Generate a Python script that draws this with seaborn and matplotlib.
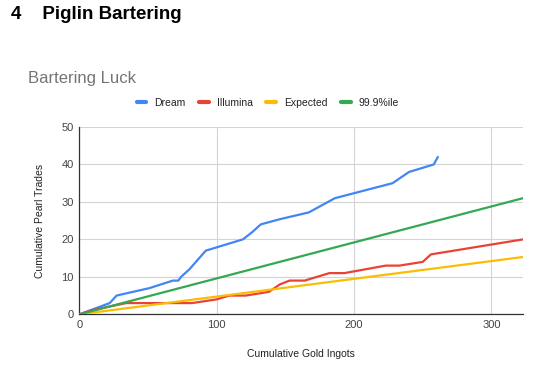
import pandas as pd
import numpy as np
import seaborn as sns
import matplotlib.pyplot as plt
from matplotlib.lines import Line2D

# Values
dream_gold = [0, 22, 27, 51, 68, 72, 74, 80, 92, 119, 126, 132, 146, 153, 167, 186, 228, 240, 258, 261]
dream_pearls = [0, 3, 5, 7, 9, 9, 10, 12, 17, 20, 22, 24, 25.4, 26, 27.2, 31, 35, 38, 40, 42]

illumina_gold = [0, 8, 34, 82, 100, 109, 121, 138, 146, 153, 164, 182, 193, 223, 233, 250, 256, 323]
illumina_pearls = [0, 1, 3, 3, 4, 5, 5, 6, 8, 9, 9, 11, 11, 13, 13, 14, 16, 20]

expected_gold = [0, 323]
expected_pearls = [0, 15.3]

pct999_gold = [0, 323]
pct999_pearls = [0, 31]

series = ['Dream', 'Illumina', 'Expected', '99.9%ile']
colors = ['#4285F4', '#EA4335', '#FBBC04', '#34A853']

frames = []
for name, gx, py in [('Dream', dream_gold, dream_pearls),
                     ('Illumina', illumina_gold, illumina_pearls),
                     ('Expected', expected_gold, expected_pearls),
                     ('99.9%ile', pct999_gold, pct999_pearls)]:
    frames.append(pd.DataFrame({'gold': gx, 'pearls': py, 'series': name}))
df = pd.concat(frames, ignore_index=True)

sns.set_style('white')
plt.rcParams['font.family'] = ['Liberation Sans', 'DejaVu Sans']

fig = plt.figure(figsize=(5.49, 3.74), dpi=100)
ax = fig.add_axes([0.1448, 0.1596, 0.8078, 0.5008])

sns.lineplot(data=df, x='gold', y='pearls', hue='series', hue_order=series,
             palette=colors, linewidth=1.6, sort=False, legend=False,
             estimator=None, ax=ax, zorder=3)

ax.set_xlim(0, 323)
ax.set_ylim(0, 50)
ax.set_xticks([0, 100, 200, 300])
ax.set_yticks([0, 10, 20, 30, 40, 50])
ax.grid(True, color='#d4d4d4', linewidth=0.8)
ax.tick_params(length=0, labelsize=8, labelcolor='#444444', pad=4)
for s in ['top', 'right']:
    ax.spines[s].set_visible(False)
for s in ['left', 'bottom']:
    ax.spines[s].set_color('#333333')
    ax.spines[s].set_linewidth(0.9)

ax.set_xlabel('Cumulative Gold Ingots', fontsize=7.5, color='#222222', labelpad=14)
ax.set_ylabel('Cumulative Pearl Trades', fontsize=7.5, color='#222222', labelpad=12)

# section heading and chart title
fig.text(11 / 549, 1 - 19 / 374, '4    Piglin Bartering', fontsize=13.5, fontweight='bold',
         color='black', ha='left', va='baseline')
fig.text(28 / 549, 1 - 83 / 374, 'Bartering Luck', fontsize=12, color='#757575',
         ha='left', va='baseline')

handles = [Line2D([0], [0], color=c, linewidth=3) for c in colors]
fig.legend(handles, series, loc='center', bbox_to_anchor=(268 / 549, 1 - 103 / 374),
           ncol=4, frameon=False, fontsize=7.5, handlelength=0.9, handletextpad=0.8,
           columnspacing=1.3, labelcolor='#222222')

fig.savefig('out.png', dpi=100)
